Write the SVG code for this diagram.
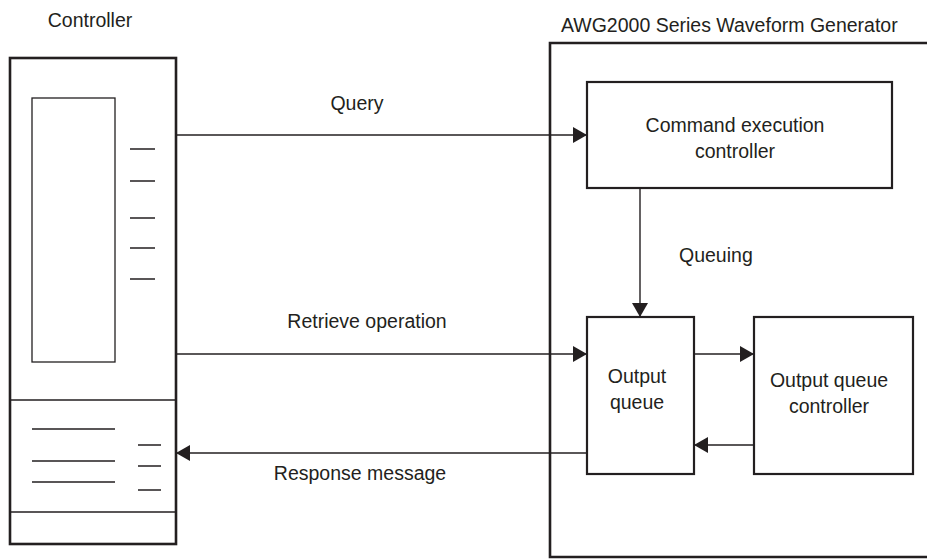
<svg xmlns="http://www.w3.org/2000/svg" width="927" height="559" viewBox="0 0 927 559">
<style>
text{font-family:"Liberation Sans",Arial,sans-serif;font-size:19.5px;fill:#231f20}
.c{text-anchor:middle}
.outer{fill:none;stroke:#231f20;stroke-width:2.6}
.box{fill:none;stroke:#231f20;stroke-width:2.2}
.thin{fill:none;stroke:#231f20;stroke-width:1.3}
.conn{fill:none;stroke:#231f20;stroke-width:1.4}
</style>
<defs>
<marker id="ah" markerUnits="userSpaceOnUse" markerWidth="14" markerHeight="16" refX="14" refY="8" orient="auto" viewBox="0 0 14 16">
<path d="M0,0 L14,8 L0,16 z" fill="#231f20"/>
</marker>
</defs>
<g id="controller">
<text class="c" x="90" y="27">Controller</text>
<rect class="outer" x="10" y="58" width="166" height="486"/>
<rect class="thin" x="32" y="98" width="83" height="264"/>
<path class="thin" d="M130,149H155M130,181H155M130,218H155M130,248H155M130,279H155"/>
<path class="thin" d="M10,400H176M10,512H176"/>
<path class="thin" d="M32,429H115M32,461H115M32,482H115"/>
<path class="thin" d="M138,445H161M138,466H161M138,490H161"/>
</g>
<g id="awg">
<text x="561" y="32">AWG2000 Series Waveform Generator</text>
<path class="outer" d="M935,43H550V557H935"/>
</g>
<g id="cmd">
<rect class="box" x="587" y="82" width="305" height="106"/>
<text class="c" x="735" y="132">Command execution</text>
<text class="c" x="735" y="158">controller</text>
</g>
<g id="oq">
<rect class="box" x="587" y="317" width="107" height="157"/>
<text class="c" x="637" y="383">Output</text>
<text class="c" x="637" y="409">queue</text>
</g>
<g id="oqc">
<rect class="box" x="754" y="317" width="159" height="157"/>
<text class="c" x="829" y="387">Output queue</text>
<text class="c" x="829" y="413">controller</text>
</g>
<g id="connectors">
<line class="conn" x1="176" y1="135" x2="587" y2="135" marker-end="url(#ah)"/>
<line class="conn" x1="176" y1="354" x2="587" y2="354" marker-end="url(#ah)"/>
<line class="conn" x1="587" y1="453" x2="176" y2="453" marker-end="url(#ah)"/>
<line class="conn" x1="640" y1="188" x2="640" y2="317" marker-end="url(#ah)"/>
<line class="conn" x1="694" y1="354" x2="754" y2="354" marker-end="url(#ah)"/>
<line class="conn" x1="754" y1="445" x2="694" y2="445" marker-end="url(#ah)"/>
<text class="c" x="357" y="110">Query</text>
<text class="c" x="367" y="328">Retrieve operation</text>
<text class="c" x="360" y="480">Response message</text>
<text x="679" y="262">Queuing</text>
</g>
</svg>
